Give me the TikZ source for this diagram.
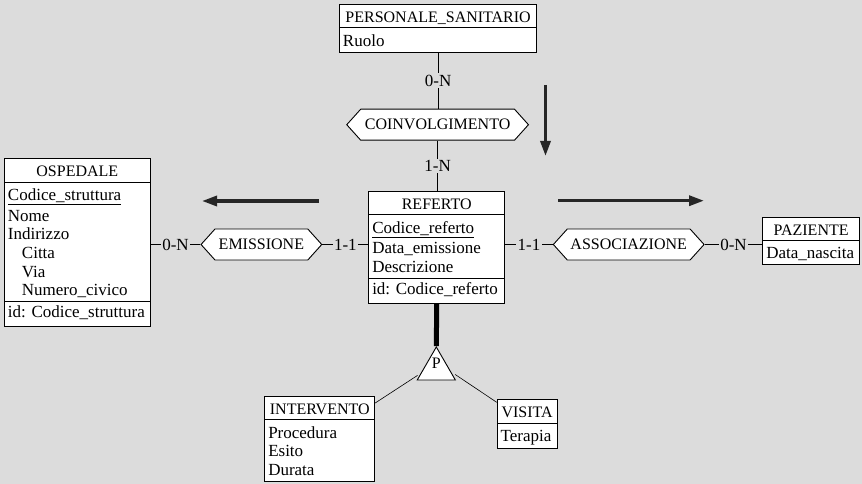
\documentclass[tikz,border=0pt]{standalone}
\usepackage{fontspec}
\setmainfont{Liberation Serif}
\usetikzlibrary{shapes.multipart,shapes.symbols,shapes.geometric,arrows.meta}
\definecolor{bggray}{RGB}{220,220,220}
\definecolor{arrowgray}{RGB}{38,38,38}
\newcommand\erfont{\fontsize{17}{18.7}\selectfont\frenchspacing}
\newcommand\capsfont{\fontsize{16}{18.4}\selectfont}
\newcommand\erstrut{\rule[-3pt]{0pt}{18.4pt}}
\newcommand\ertitle[1]{\makebox[\linewidth]{\capsfont\rule[-2.5pt]{0pt}{17.5pt}#1}}

\begin{document}
\begin{tikzpicture}[x=1pt,y=-1pt,
every node/.style={font=\erfont},
entity/.style={rectangle split, rectangle split parts=#1, draw, fill=white, line width=0.9pt, inner xsep=3.5pt, inner ysep=2.5pt, align=left, anchor=north west},
relation/.style={signal, signal to=west and east, draw, fill=white, line width=0.9pt, minimum height=31pt, signal pointer angle=96, inner xsep=1pt, font=\capsfont},
isa/.style={regular polygon, regular polygon sides=3, draw, fill=white, line width=0.9pt, minimum size=44pt, inner sep=0pt},
card/.style={fill=bggray, inner sep=1.5pt},
link/.style={line width=0.9pt},
thinlink/.style={line width=0.6pt},
bigarrow/.style={line width=3.2pt, draw=arrowgray, -{Triangle[length=15pt,width=10pt]}},
]
\fill[bggray] (0,0) rectangle (862,484);
\useasboundingbox (0,0) rectangle (862,484);

%Entities
\node[entity=2, text width=190.3pt] (pers) at (339,4) {\ertitle{PERSONALE\_SANITARIO}
\nodepart{two}\erstrut Ruolo};
\node[entity=3, text width=138.7pt] (osp) at (4,158.3) {\ertitle{OSPEDALE}
\nodepart{two}\erstrut\underline{Codice\_struttura}\\
\erstrut Nome\\
\erstrut Indirizzo\\
\erstrut\hspace*{14pt}Citta\\
\erstrut\hspace*{14pt}Via\\
\erstrut\hspace*{14pt}Numero\_civico
\nodepart{three}\strut id: Codice\_struttura};
\node[entity=3, text width=129pt] (ref) at (368.3,191) {\ertitle{REFERTO}
\nodepart{two}\erstrut\underline{Codice\_referto}\\
\erstrut Data\_emissione\\
\erstrut Descrizione
\nodepart{three}\strut id: Codice\_referto};
\node[entity=2, text width=89.7pt] (paz) at (762.3,216.7) {\ertitle{PAZIENTE}
\nodepart{two}\erstrut Data\_nascita};
\node[entity=2, text width=103pt] (int) at (264.3,396) {\ertitle{INTERVENTO}
\nodepart{two}\erstrut Procedura\\
\erstrut Esito\\
\erstrut Durata};
\node[entity=2, text width=53pt] (vis) at (496.7,399.3) {\ertitle{VISITA}
\nodepart{two}\erstrut Terapia};

%Relations
\node[relation, minimum width=120.7pt] (emi) at (261.4,244.5) {EMISSIONE};
\node[relation, minimum width=150.7pt] (ass) at (628.7,244.5) {ASSOCIAZIONE};
\node[relation, minimum width=181.7pt] (coi) at (437.6,124.7) {COINVOLGIMENTO};
\node[isa, label={[yshift=6pt, font=\capsfont]center:P}] (gen) at (436.3,369) {};

%Arrow ends
\coordinate (emiA) at (319,201);
\coordinate (emiB) at (202,201);
\coordinate (coiA) at (545.5,85);
\coordinate (coiB) at (545.5,156);
\coordinate (assA) at (558,200.7);
\coordinate (assB) at (704,200.7);

%Lines
\draw[link] (pers.south) -- node[card] {0-N} (pers.south |- coi.north);
\draw[link] (coi.south) -- node[card] {1-N} (coi.south |- ref.north);
\draw[link] (emi.west -| osp.east) -- node[card] {0-N} (emi.west);
\draw[link] (emi.east) -- node[card] {1-1} (emi.east -| ref.west);
\draw[link] (ass.west -| ref.east) -- node[card] {1-1} (ass.west);
\draw[link] (ass.east) -- node[card] {0-N} (ass.east -| paz.west);
\draw[line width=5pt] (ref.south) -- (gen.corner 1);
\draw[thinlink] ([xshift=1pt,yshift=5pt]gen.corner 2) -- ([yshift=-7pt]int.north east);
\draw[thinlink] ([xshift=-1pt,yshift=6pt]gen.corner 3) -- ([yshift=-3pt]vis.north west);
\draw[bigarrow] (emiA) -- (emiB);
\draw[bigarrow] (coiA) -- (coiB);
\draw[bigarrow] (assA) -- (assB);
\end{tikzpicture}
\end{document}
